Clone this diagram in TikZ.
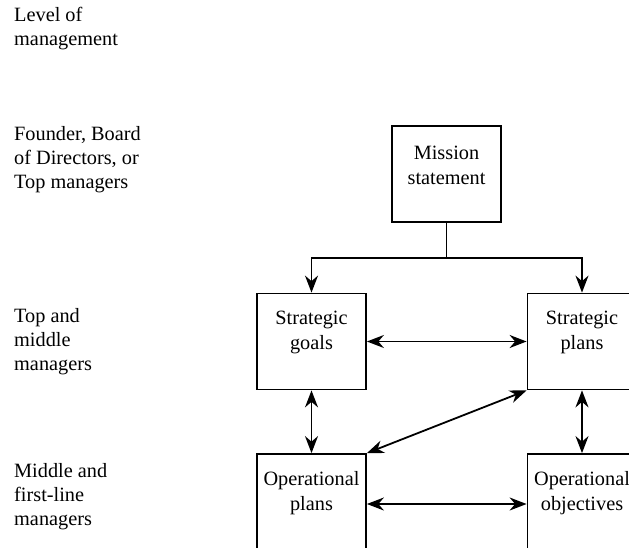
\documentclass[tikz,border=0pt]{standalone}
\usepackage{fontspec}
\setmainfont{Liberation Serif}
\usetikzlibrary{arrows.meta}

\tikzset{
  box/.style={draw, line width=1.8pt, minimum width=109pt, minimum height=96pt, inner sep=0pt},
  boxtext/.style={align=center, inner sep=0pt, font=\fontsize{20.3}{25}\selectfont},
  level/.style={align=left, anchor=north west, inner sep=0pt, font=\fontsize{20.3}{24}\selectfont},
  feed/.style={line width=1.8pt, -{Stealth[length=17pt,width=13pt]}},
  link/.style={line width=1.8pt, {Stealth[length=17pt,width=13pt]}-{Stealth[length=17pt,width=13pt]}}
}

\begin{document}
\begin{tikzpicture}[x=1pt,y=-1pt]

        \useasboundingbox (0,0) rectangle (629,548);
        \clip (0,0) rectangle (629,548);

        % levels of management
        \node[level] (lvl) at (14,7) {Level of\\management};
        \node[level] (top) at (14,126) {Founder, Board\\of Directors, or\\Top managers};
        \node[level] (mid) at (14,308) {Top and\\middle\\managers};
        \node[level] (low) at (14,463) {Middle and\\first-line\\managers};

        % boxes
        \node[box] (mission) at (446.5,174) {};
        \node[box] (goals) at (311.5,341.5) {};
        \node[box] (splans) at (582,341.5) {};
        \node[box] (oplans) at (311.5,502) {};
        \node[box] (objectives) at (582,502) {};

        \node[boxtext] (missiontxt) at ([yshift=-40pt]mission.north) {Mission\\statement};
        \node[boxtext] (goalstxt) at ([yshift=-40pt]goals.north) {Strategic\\goals};
        \node[boxtext] (splanstxt) at ([yshift=-40pt]splans.north) {Strategic\\plans};
        \node[boxtext] (oplanstxt) at ([yshift=-40pt]oplans.north) {Operational\\plans};
        \node[boxtext] (objectivestxt) at ([yshift=-40pt]objectives.north) {Operational\\objectives};

        % connectors
        \draw[line width=1.8pt] (mission.south) -- ++(0,35) coordinate (split);
        \draw[feed] (split) -| (goals.north);
        \draw[feed] (split) -| (splans.north);

        \draw[link] (goals.east) -- (splans.west);
        \draw[link] (goals.south) -- (oplans.north);
        \draw[link] (splans.south) -- (objectives.north);
        \draw[link] (splans.south west) -- (oplans.north east);
        \draw[link] ([yshift=-2pt]oplans.east) -- ([yshift=-2pt]objectives.west);
    \end{tikzpicture}
\end{document}
